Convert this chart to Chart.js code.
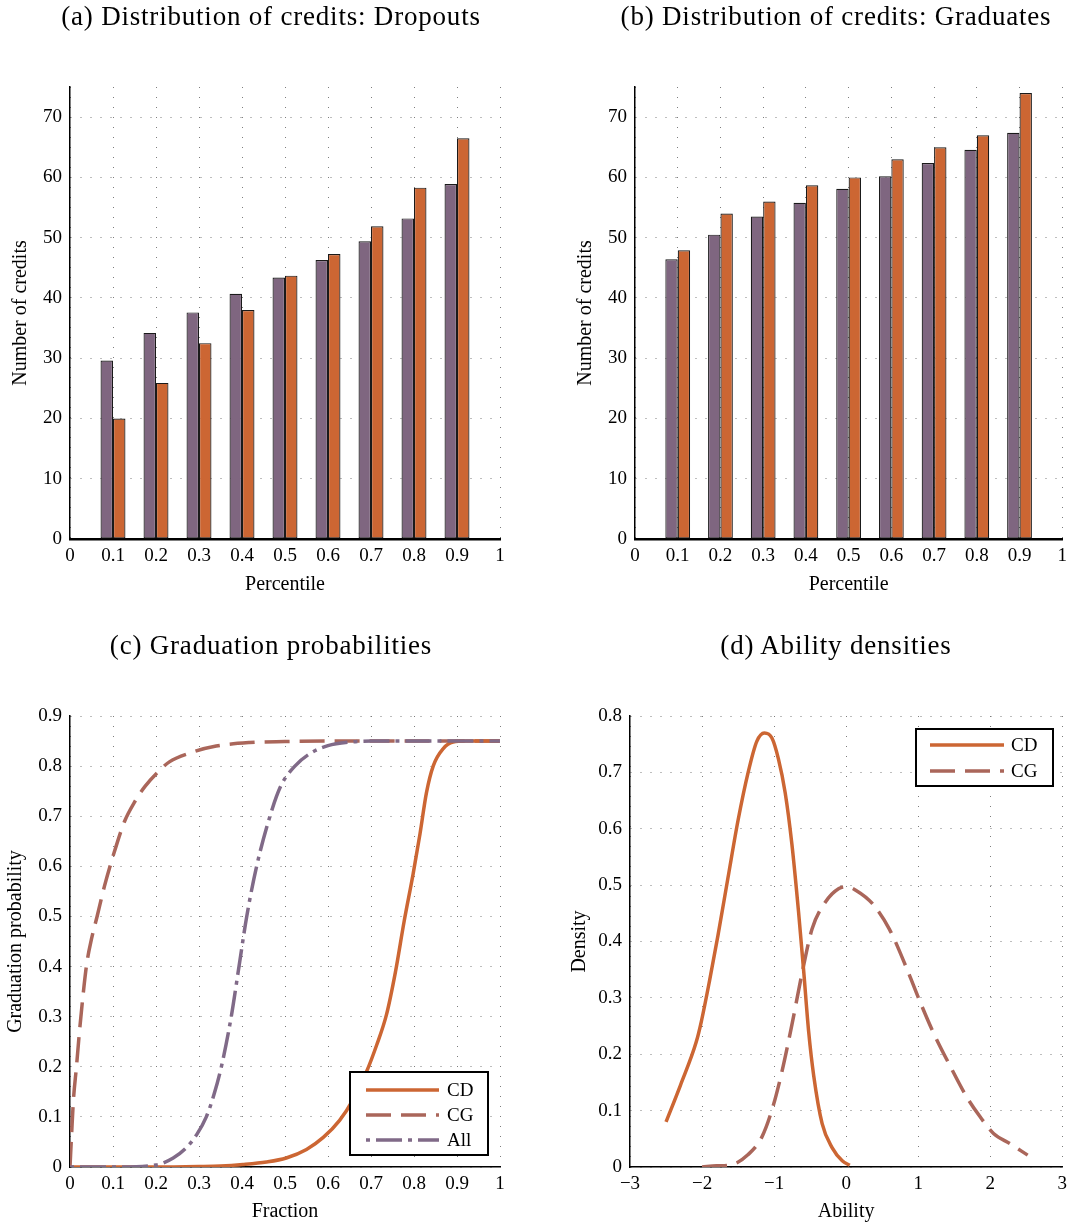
<!DOCTYPE html>
<html><head><meta charset="utf-8">
<script src="https://cdn.jsdelivr.net/npm/chart.js@4.4.0/dist/chart.umd.min.js"></script>
<style>
html,body{margin:0;padding:0;background:#fff;}
body{width:1073px;height:1226px;position:relative;overflow:hidden;font-family:'Liberation Serif','Times New Roman',serif;}
canvas{position:absolute;}
.title{position:absolute;width:536px;text-align:center;font-size:27px;line-height:27px;letter-spacing:0.8px;color:#000;white-space:nowrap;z-index:2;}
</style></head><body>
<canvas id="ca" width="536" height="600" style="left:0;top:0"></canvas>
<canvas id="cb" width="537" height="600" style="left:536px;top:0"></canvas>
<canvas id="cc" width="536" height="626" style="left:0;top:600px"></canvas>
<canvas id="cd" width="537" height="626" style="left:536px;top:600px"></canvas>
<div class="title" style="left:3px;top:3px">(a) Distribution of credits: Dropouts</div>
<div class="title" style="left:568px;top:3px">(b) Distribution of credits: Graduates</div>
<div class="title" style="left:3px;top:632px">(c) Graduation probabilities</div>
<div class="title" style="left:568px;top:632px">(d) Ability densities</div>
<script>
// ---------- data ----------
const percentiles = [0.1, 0.2, 0.3, 0.4, 0.5, 0.6, 0.7, 0.8, 0.9];
const dropoutsData  = [29.6, 34.2, 37.6, 40.7, 43.4, 46.3, 49.4, 53.2, 58.9];
const dropoutsModel = [20.0, 25.9, 32.5, 38.0, 43.7, 47.3, 51.9, 58.3, 66.5];
const graduatesData  = [46.4, 50.5, 53.5, 55.8, 58.1, 60.2, 62.4, 64.6, 67.4];
const graduatesModel = [47.9, 54.0, 56.0, 58.7, 60.0, 63.0, 65.0, 67.0, 74.0];

const fractionCD = [0, 0.1, 0.2, 0.3, 0.35, 0.402, 0.457, 0.503, 0.55, 0.589, 0.627, 0.658, 0.689, 0.713, 0.736, 0.757, 0.777, 0.798, 0.814, 0.829, 0.845, 0.868, 0.891, 0.922, 0.95, 1];
const probCD     = [0, 0, 0, 0.001, 0.002, 0.005, 0.01, 0.018, 0.035, 0.059, 0.093, 0.134, 0.189, 0.243, 0.304, 0.39, 0.49, 0.585, 0.665, 0.747, 0.801, 0.835, 0.848, 0.85, 0.85, 0.85];
const fractionCG = [0, 0.004, 0.008, 0.015, 0.022, 0.03, 0.039, 0.05, 0.063, 0.08, 0.1, 0.127, 0.15, 0.174, 0.209, 0.232, 0.278, 0.34, 0.418, 0.5, 0.6, 0.7, 0.8, 0.9, 1];
const probCG     = [0, 0.07, 0.134, 0.2, 0.27, 0.34, 0.406, 0.455, 0.5, 0.56, 0.62, 0.69, 0.728, 0.759, 0.792, 0.809, 0.826, 0.84, 0.847, 0.849, 0.85, 0.85, 0.85, 0.85, 0.85];
const fractionAll = [0, 0.1, 0.2, 0.24, 0.27, 0.295, 0.317, 0.335, 0.352, 0.375, 0.393, 0.411, 0.434, 0.465, 0.49, 0.523, 0.56, 0.6, 0.65, 0.7, 0.8, 0.9, 1];
const probAll     = [0, 0, 0.004, 0.018, 0.038, 0.065, 0.1, 0.145, 0.2, 0.3, 0.4, 0.5, 0.6, 0.7, 0.76, 0.8, 0.826, 0.841, 0.848, 0.85, 0.85, 0.85, 0.85];

const abilityCD = [-2.5, -2.3, -2.08, -2.01, -1.895, -1.78, -1.64, -1.5, -1.36, -1.24, -1.135, -1.03, -0.94, -0.846, -0.753, -0.66, -0.59, -0.52, -0.45, -0.333, -0.193, -0.054, 0.05];
const densityCD = [0.08, 0.145, 0.222, 0.258, 0.331, 0.41, 0.513, 0.615, 0.70, 0.755, 0.77, 0.761, 0.724, 0.664, 0.573, 0.452, 0.349, 0.24, 0.162, 0.077, 0.034, 0.011, 0.003];
const abilityCG = [-2.0, -1.8, -1.59, -1.36, -1.17, -1.03, -0.893, -0.753, -0.613, -0.473, -0.287, -0.1, 0.016, 0.133, 0.366, 0.6, 0.832, 1.02, 1.205, 1.44, 1.67, 1.86, 2.05, 2.28, 2.52];
const densityCG = [0.0, 0.002, 0.004, 0.022, 0.053, 0.101, 0.168, 0.252, 0.343, 0.422, 0.47, 0.494, 0.497, 0.491, 0.467, 0.422, 0.355, 0.295, 0.24, 0.18, 0.125, 0.089, 0.059, 0.041, 0.021];

const ticksUnit = [0, 0.1, 0.2, 0.3, 0.4, 0.5, 0.6, 0.7, 0.8, 0.9, 1];
const ticksCredits = [0, 10, 20, 30, 40, 50, 60, 70];
const ticksProb = [0, 0.1, 0.2, 0.3, 0.4, 0.5, 0.6, 0.7, 0.8, 0.9];
const ticksDensity = [0, 0.1, 0.2, 0.3, 0.4, 0.5, 0.6, 0.7, 0.8];
const ticksAbility = [-3, -2, -1, 0, 1, 2, 3];

// ---------- styling ----------
const FONT = "'Liberation Serif', 'Times New Roman', serif";
Chart.defaults.font.family = FONT;
Chart.defaults.color = '#000';
const PURPLE = '#7f6680';
const ORANGE = '#cc6633';
const ROSE = '#aa665a';
const PURPLE_LINE = '#806a88';

function fmt(v){ return String(Math.round(v*10)/10).replace('-', '\u2212'); }

function scale(axis, min, max, ticksArr, title, titlePad, size, borderW){
  return {
    type:'linear', min:min, max:max, offset:false,
    grid:{color:'#7d7d7d', lineWidth:1, drawTicks:false, offset:false},
    border:{display:true, color:'#000', width:borderW, dash:[1,9]},
    ticks:{font:{size:19}, color:'#000', padding: axis==='x'?6:8, callback:(v)=>fmt(v), autoSkip:false, maxRotation:0},
    title:{display:true, text:title, font:{size:20}, color:'#000', padding:titlePad},
    afterBuildTicks:(s)=>{ s.ticks = ticksArr.map(v=>({value:v})); },
    afterFit:(s)=>{ if(axis==='x') s.height=size; else s.width=size; }
  };
}

const boxLegend = {
  id:'boxLegend',
  afterDraw(chart, args, o){
    if(!o || !o.box) return;
    const ctx = chart.ctx; const b = o.box;
    ctx.save();
    ctx.fillStyle='#fff'; ctx.fillRect(b[0],b[1],b[2]-b[0],b[3]-b[1]);
    ctx.lineWidth=2; ctx.strokeStyle='#000'; ctx.setLineDash([]);
    ctx.strokeRect(b[0],b[1],b[2]-b[0],b[3]-b[1]);
    chart.data.datasets.forEach((ds,i)=>{
      const y = o.rows[i];
      ctx.beginPath(); ctx.setLineDash(ds.borderDash||[]); ctx.lineWidth=ds.borderWidth; ctx.strokeStyle=ds.borderColor; ctx.lineCap='butt';
      ctx.moveTo(o.lineX[0], y); ctx.lineTo(o.lineX[1], y); ctx.stroke();
      ctx.setLineDash([]);
      ctx.fillStyle='#000'; ctx.font = '19px ' + FONT; ctx.textBaseline='middle'; ctx.textAlign='left';
      ctx.fillText(ds.label, o.textX, y+1);
    });
    ctx.restore();
  }
};

function barChart(id, purpleVals, orangeVals, padLeft, padRight, yTitlePad){
  const ds = (label, vals, color)=>({
    label:label, data: percentiles.map((p,i)=>({x:p, y:vals[i]})),
    backgroundColor:color, borderColor:'#1a1a1a', borderWidth:1.2, borderSkipped:false,
    categoryPercentage:0.58, barPercentage:1
  });
  new Chart(document.getElementById(id), {
    type:'bar',
    data:{datasets:[ds('Data', purpleVals, PURPLE), ds('Model', orangeVals, ORANGE)]},
    options:{
      responsive:false, animation:false, devicePixelRatio:1,
      layout:{padding:{left:padLeft, right:padRight, top:87, bottom:0}},
      plugins:{legend:{display:false}, tooltip:{enabled:false}},
      scales:{
        x: scale('x', 0, 1, ticksUnit, 'Percentile', 3, 61, 2.5),
        y: scale('y', 0, 75, ticksCredits, 'Number of credits', yTitlePad, 70, 1.5)
      }
    }
  });
}
barChart('ca', dropoutsData, dropoutsModel, 0, 36, 9);
barChart('cb', graduatesData, graduatesModel, 29, 8, 9);

function line(label, xs, ys, color, dash, order){
  return {label:label, data: xs.map((x,i)=>({x:x, y:ys[i]})), borderColor:color, backgroundColor:color,
    borderWidth:3.5, borderDash:dash, showLine:true, pointRadius:0, fill:false,
    cubicInterpolationMode:'monotone', order:order};
}

new Chart(document.getElementById('cc'), {
  type:'scatter',
  data:{datasets:[
    line('CD', fractionCD, probCD, ORANGE, [], 1),
    line('CG', fractionCG, probCG, ROSE, [25,10], 2),
    line('All', fractionAll, probAll, PURPLE_LINE, [4,6,26,6], 0)
  ]},
  plugins:[boxLegend],
  options:{
    responsive:false, animation:false, devicePixelRatio:1,
    layout:{padding:{left:0, right:36, top:116, bottom:0}},
    plugins:{legend:{display:false}, tooltip:{enabled:false},
      boxLegend:{box:[350,472,488,555], rows:[490,515,540], lineX:[366,439], textX:447}},
    scales:{
      x: scale('x', 0, 1, ticksUnit, 'Fraction', 2, 59, 1.5),
      y: scale('y', 0, 0.9, ticksProb, 'Graduation probability', 4, 70, 1.5)
    }
  }
});

new Chart(document.getElementById('cd'), {
  type:'scatter',
  data:{datasets:[
    line('CD', abilityCD, densityCD, ORANGE, [], 0),
    line('CG', abilityCG, densityCG, ROSE, [25,10], 1)
  ]},
  plugins:[boxLegend],
  options:{
    responsive:false, animation:false, devicePixelRatio:1,
    layout:{padding:{left:24, right:8, top:116, bottom:0}},
    plugins:{legend:{display:false}, tooltip:{enabled:false},
      boxLegend:{box:[380,129,517,186], rows:[145,171], lineX:[394,468], textX:475}},
    scales:{
      x: scale('x', -3, 3, ticksAbility, 'Ability', 2, 59, 1.5),
      y: scale('y', 0, 0.8, ticksDensity, 'Density', 8, 70, 1.5)
    }
  }
});
</script>
</body></html>
